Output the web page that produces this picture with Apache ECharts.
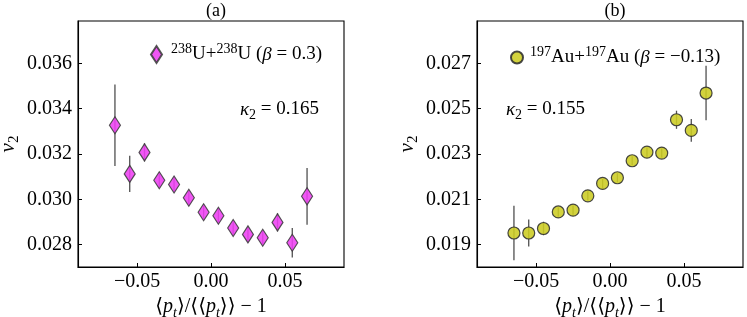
<!DOCTYPE html>
<html>
<head>
<meta charset="utf-8">
<script src="https://cdn.jsdelivr.net/npm/echarts@6/dist/echarts.min.js"></script>
<style>
html,body{margin:0;padding:0;background:#fff;}
#chart{width:747px;height:317px;}
</style>
</head>
<body>
<div id="chart"></div>
<script>
// ---- data ----
var xValues = [-0.065,-0.055,-0.045,-0.035,-0.025,-0.015,-0.005,0.005,0.015,0.025,0.035,0.045,0.055,0.065];
var uV2  = [0.03327,0.03112,0.03207,0.03084,0.03065,0.03007,0.02943,0.02927,0.02873,0.02845,0.02830,0.02898,0.02808,0.03013];
var uErr = [0.0018,0.0008,0.0004,0.0003,0.0003,0.0003,0.0003,0.0003,0.0003,0.0003,0.0003,0.0004,0.00065,0.00125];
var auV2  = [0.01951,0.01951,0.01971,0.02044,0.02052,0.02115,0.02170,0.02195,0.02270,0.02308,0.02304,0.02451,0.02404,0.02569];
var auErr = [0.0012,0.0006,0.0003,0.0002,0.0002,0.0002,0.0002,0.0002,0.0002,0.0002,0.0002,0.0004,0.0005,0.0012];
var xTicks = [-0.05,0,0.05];
var uTicks = [0.028,0.030,0.032,0.034,0.036];
var auTicks = [0.019,0.021,0.023,0.025,0.027];

var FF = '"Liberation Serif","DejaVu Serif",serif';
function rich(sz){
  var s = Math.round(sz*0.72);
  return {
    n:{fontFamily:FF,fontSize:sz,color:'#000',lineHeight:sz+6},
    i:{fontFamily:FF,fontSize:sz,fontStyle:'italic',color:'#000',lineHeight:sz+6},
    sub:{fontFamily:FF,fontSize:s,color:'#000',verticalAlign:'bottom',lineHeight:s},
    isub:{fontFamily:FF,fontSize:s,fontStyle:'italic',color:'#000',verticalAlign:'bottom',lineHeight:s},
    sup:{fontFamily:FF,fontSize:s,color:'#000',verticalAlign:'top',lineHeight:s},
    w:{width:4},
    w2:{width:2}
  };
}
function fmtX(v){
  if (Math.abs(v) < 1e-9) return '0.00';
  return (v<0?'\u2212':'') + Math.abs(v).toFixed(2);
}
function fmtY(v){ return v.toFixed(3); }

function errData(v, e){
  return xValues.map(function(x,i){ return [x, v[i]-e[i], v[i]+e[i]]; });
}
function ptData(v){
  return xValues.map(function(x,i){ return [x, v[i]]; });
}
function errRender(params, api){
  var x = api.value(0), lo = api.value(1), hi = api.value(2);
  var p1 = api.coord([x, lo]), p2 = api.coord([x, hi]);
  return {type:'line', shape:{x1:p1[0],y1:p1[1],x2:p2[0],y2:p2[1]},
          style:{stroke:'#505050', lineWidth:1.3}};
}

var xName = '{n|\u27E8}{i|p}{isub|t}{n|\u27E9/\u27E8\u27E8}{i|p}{isub|t}{n|\u27E9\u27E9 \u2212 1}';
var yName = '{i|v}{sub|2}';

function xAxis(gi){
  return {
    type:'value', gridIndex:gi, min:-0.09, max:0.09,
    axisLine:{show:true, onZero:false, lineStyle:{color:'#000', width:1.1}},
    axisTick:{show:true, inside:true, length:4, customValues:xTicks, lineStyle:{color:'#000', width:1}},
    axisLabel:{show:true, margin:5, customValues:xTicks, formatter:fmtX, fontFamily:FF, fontSize:20, color:'#000'},
    splitLine:{show:false},
    name:xName, nameLocation:'middle', nameGap:21,
    nameTextStyle:{rich:rich(20)}
  };
}
function yAxis(gi, mn, mx, ticks){
  return {
    type:'value', gridIndex:gi, min:mn, max:mx,
    axisLine:{show:true, onZero:false, lineStyle:{color:'#000', width:1.1}},
    axisTick:{show:true, inside:true, length:4, customValues:ticks, lineStyle:{color:'#000', width:1}},
    axisLabel:{show:true, margin:6, customValues:ticks, formatter:fmtY, fontFamily:FF, fontSize:20, color:'#000'},
    splitLine:{show:false},
    name:yName, nameLocation:'middle', nameGap:56, nameRotate:90,
    nameTextStyle:{rich:rich(21)}
  };
}

var chart = echarts.init(document.getElementById('chart'), null, {renderer:'canvas'});
chart.setOption({
  animation:false,
  backgroundColor:'#fff',
  title:[
    {text:'(a)', left:211, top:-3, textAlign:'center', textStyle:{fontFamily:FF, fontSize:18, fontWeight:'normal', color:'#000'}},
    {text:'(b)', left:610, top:-3, textAlign:'center', textStyle:{fontFamily:FF, fontSize:18, fontWeight:'normal', color:'#000'}}
  ],
  grid:[
    {left:78, top:21, width:266, height:246, show:true, borderColor:'#000', borderWidth:1.1, backgroundColor:'transparent', outerBoundsMode:'none', containLabel:false},
    {left:477, top:21, width:266, height:246, show:true, borderColor:'#000', borderWidth:1.1, backgroundColor:'transparent', outerBoundsMode:'none', containLabel:false}
  ],
  xAxis:[xAxis(0), xAxis(1)],
  yAxis:[yAxis(0, 0.02701, 0.03787, uTicks), yAxis(1, 0.01801, 0.02887, auTicks)],
  legend:[
    {data:['U'], left:145, top:37, orient:'horizontal', icon:'diamond', itemWidth:11, itemHeight:17,
     formatter:function(){ return '{w|}{sup|238}{n|U+}{sup|238}{n|U (}{i|\u03B2}{n| = 0.3)}'; },
     textStyle:{rich:rich(19)}},
    {data:['Au'], left:505, top:40, orient:'horizontal', icon:'circle', itemWidth:12, itemHeight:12,
     formatter:function(){ return '{w2|}{sup|197}{n|Au+}{sup|197}{n|Au (}{i|\u03B2}{n| = \u22120.13)}'; },
     textStyle:{rich:rich(19)}}
  ],
  graphic:[
    {type:'text', left:240, top:100, style:{text:'{i|\u03BA}{sub|2}{n| = 0.165}', rich:rich(19)}},
    {type:'text', left:506, top:100, style:{text:'{i|\u03BA}{sub|2}{n| = 0.155}', rich:rich(19)}}
  ],
  series:[
    {type:'custom', name:'Uerr', xAxisIndex:0, yAxisIndex:0, renderItem:errRender,
     data:errData(uV2,uErr), encode:{x:0, y:[1,2]}, z:2, silent:true},
    {type:'scatter', name:'U', xAxisIndex:0, yAxisIndex:0, symbol:'diamond', symbolSize:[11,17],
     data:ptData(uV2), itemStyle:{color:'#ee40f2', borderColor:'#3c3c3c', borderWidth:1.2, opacity:0.88}, z:3},
    {type:'custom', name:'Auerr', xAxisIndex:1, yAxisIndex:1, renderItem:errRender,
     data:errData(auV2,auErr), encode:{x:0, y:[1,2]}, z:2, silent:true},
    {type:'scatter', name:'Au', xAxisIndex:1, yAxisIndex:1, symbol:'circle', symbolSize:12,
     data:ptData(auV2), itemStyle:{color:'#cccc22', borderColor:'#2e2e2e', borderWidth:1.2, opacity:0.88}, z:3}
  ]
});
</script>
</body>
</html>
